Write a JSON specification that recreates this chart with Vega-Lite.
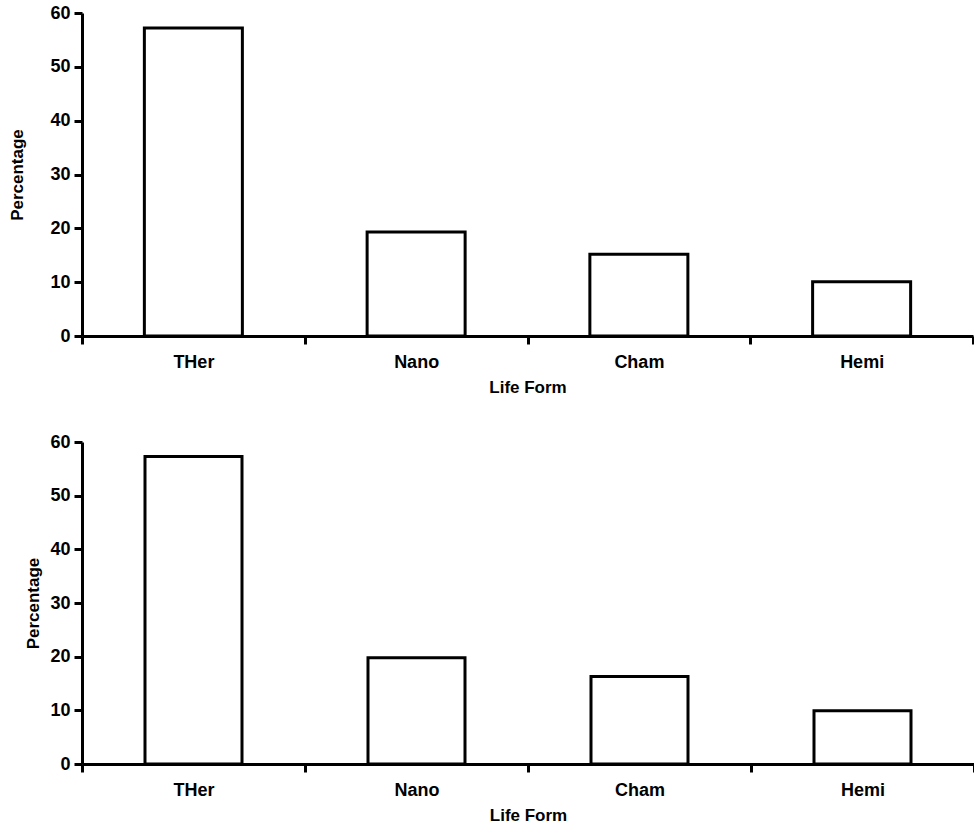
{
  "$schema": "https://vega.github.io/schema/vega-lite/v6.json",
  "background": "white",
  "padding": {"left": 8, "top": 4, "right": 0, "bottom": 0},
  "spacing": 38,
  "align": "none",
  "config": {
    "view": {"stroke": null},
    "font": "Liberation Sans",
    "axis": {
      "domainColor": "black",
      "domainWidth": 3,
      "tickColor": "black",
      "tickWidth": 3,
      "tickSize": 8,
      "labelColor": "black",
      "labelFont": "Liberation Sans",
      "labelFontWeight": "bold",
      "labelFontSize": 18,
      "titleColor": "black",
      "titleFont": "Liberation Sans",
      "titleFontWeight": "bold",
      "titleFontSize": 17,
      "grid": false
    }
  },
  "datasets": {
    "top": [
      {"form": "THer", "pct": 57.2},
      {"form": "Nano", "pct": 19.3},
      {"form": "Cham", "pct": 15.2},
      {"form": "Hemi", "pct": 10.1}
    ],
    "bottom": [
      {"form": "THer", "pct": 57.3},
      {"form": "Nano", "pct": 19.8},
      {"form": "Cham", "pct": 16.3},
      {"form": "Hemi", "pct": 9.9}
    ]
  },
  "vconcat": [
    {
      "data": {"name": "top"},
      "width": 891,
      "height": 323,
      "mark": {"type": "bar", "fill": "white", "stroke": "black", "strokeWidth": 3, "width": {"band": 0.44}},
      "encoding": {
        "x": {
          "field": "form", "type": "nominal", "sort": null,
          "scale": {"paddingInner": 0, "paddingOuter": 0},
          "axis": {"title": "Life Form", "labelAngle": 0, "tickBand": "extent", "labelPadding": 9, "titlePadding": 8}
        },
        "y": {
          "field": "pct", "type": "quantitative",
          "scale": {"domain": [0, 60], "nice": false},
          "axis": {"title": "Percentage", "values": [0, 10, 20, 30, 40, 50, 60], "labelPadding": 4, "titlePadding": 23}
        }
      }
    },
    {
      "data": {"name": "bottom"},
      "width": 892,
      "height": 322,
      "mark": {"type": "bar", "fill": "white", "stroke": "black", "strokeWidth": 3, "width": {"band": 0.435}},
      "encoding": {
        "x": {
          "field": "form", "type": "nominal", "sort": null,
          "scale": {"paddingInner": 0, "paddingOuter": 0},
          "axis": {"title": "Life Form", "labelAngle": 0, "tickBand": "extent", "labelPadding": 9, "titlePadding": 8}
        },
        "y": {
          "field": "pct", "type": "quantitative",
          "scale": {"domain": [0, 60], "nice": false},
          "axis": {"title": "Percentage", "values": [0, 10, 20, 30, 40, 50, 60], "labelPadding": 4, "titlePadding": 7}
        }
      }
    }
  ]
}
